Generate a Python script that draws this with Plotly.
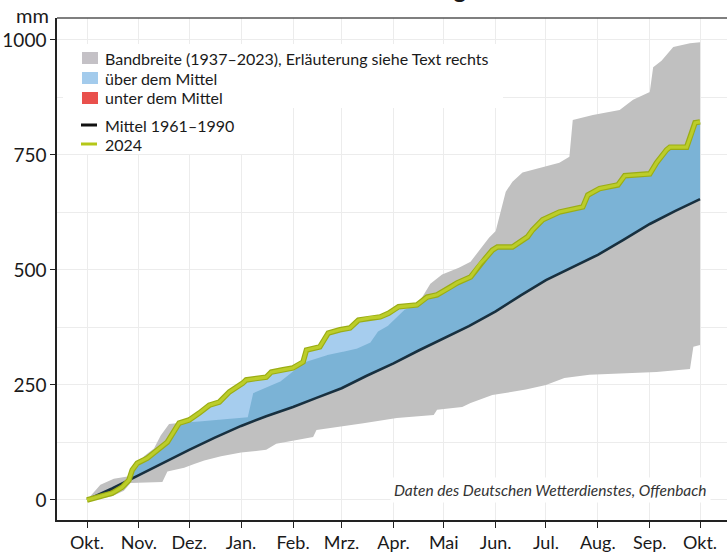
import numpy as np
import pandas as pd
import plotly.graph_objects as go

# Cumulative precipitation (mm), hydrological year October 2023 - September 2024

# 2024 running total
jahr_datum = [
    "2023-10-01", "2023-10-08", "2023-10-16", "2023-10-22", "2023-10-26", "2023-10-28",
    "2023-10-31", "2023-11-06", "2023-11-12", "2023-11-18", "2023-11-25", "2023-12-01",
    "2023-12-07", "2023-12-13", "2023-12-19", "2023-12-25", "2024-01-02", "2024-01-04",
    "2024-01-16", "2024-01-19", "2024-01-26", "2024-02-01", "2024-02-07", "2024-02-09",
    "2024-02-17", "2024-02-22", "2024-02-29", "2024-03-06", "2024-03-11", "2024-03-18",
    "2024-03-24", "2024-03-29", "2024-04-04", "2024-04-15", "2024-04-21", "2024-04-27",
    "2024-05-05", "2024-05-09", "2024-05-17", "2024-05-23", "2024-05-26", "2024-05-30",
    "2024-06-02", "2024-06-11", "2024-06-20", "2024-06-23", "2024-06-29", "2024-07-09",
    "2024-07-23", "2024-07-26", "2024-08-02", "2024-08-13", "2024-08-17", "2024-09-01",
    "2024-09-05", "2024-09-11", "2024-09-13", "2024-09-23", "2024-09-26", "2024-09-28",
    "2024-10-01",
]
jahr_mm = [
    0, 7, 15, 28, 43, 65,
    80, 91, 109, 126, 167, 174,
    189, 206, 213, 235, 254, 261,
    267, 278, 283, 287, 300, 326,
    333, 363, 370, 374, 391, 396,
    398, 406, 420, 424, 441, 446,
    463, 472, 485, 515, 526, 543,
    550, 550, 572, 587, 609, 626,
    637, 663, 677, 685, 705, 709,
    733, 761, 767, 767, 798, 820,
    822,
]

# long-term mean 1961-1990
mittel_datum = [
    "2023-10-01", "2023-10-16", "2023-11-01", "2023-11-16", "2023-12-01", "2023-12-16",
    "2024-01-01", "2024-01-16", "2024-02-01", "2024-02-15", "2024-03-01", "2024-03-16",
    "2024-04-01", "2024-04-16", "2024-05-01", "2024-05-16", "2024-06-01", "2024-06-16",
    "2024-07-01", "2024-07-16", "2024-08-01", "2024-08-16", "2024-09-01", "2024-09-16",
    "2024-10-01",
]
mittel_mm = [
    0, 25, 54, 82, 109, 135,
    161, 182, 202, 222, 243, 270,
    297, 325, 352, 378, 410, 445,
    478, 505, 533, 565, 600, 628,
    654,
]

# upper edge of the 1937-2023 range
max_datum = [
    "2023-10-01", "2023-10-09", "2023-10-17", "2023-10-27", "2023-10-31", "2023-11-04",
    "2023-11-10", "2023-11-14", "2023-11-19", "2023-12-02", "2023-12-15", "2023-12-20",
    "2024-01-05", "2024-01-08", "2024-01-24", "2024-02-07", "2024-02-17", "2024-02-27",
    "2024-03-08", "2024-03-18", "2024-03-22", "2024-03-28", "2024-04-07", "2024-04-13",
    "2024-04-18", "2024-04-23", "2024-04-30", "2024-05-10", "2024-05-17", "2024-05-28",
    "2024-06-01", "2024-06-07", "2024-06-11", "2024-06-17", "2024-07-09", "2024-07-15",
    "2024-07-17", "2024-07-29", "2024-08-14", "2024-08-22", "2024-09-01", "2024-09-03",
    "2024-09-08", "2024-09-15", "2024-09-25", "2024-10-01",
]
max_mm = [
    0, 33, 46, 52, 70, 95,
    112, 140, 165, 170, 172, 175,
    180, 232, 256, 298, 311, 320,
    326, 341, 365, 376, 413, 420,
    440, 470, 490, 505, 518, 570,
    585, 670, 692, 712, 733, 746,
    826, 837, 848, 870, 887, 941,
    955, 985, 993, 995,
]

# lower edge of the 1937-2023 range
min_datum = [
    "2023-10-01", "2023-10-09", "2023-10-16", "2023-10-23", "2023-10-27", "2023-11-15",
    "2023-11-18", "2023-11-28", "2023-12-04", "2023-12-10", "2023-12-20", "2024-01-01",
    "2024-01-16", "2024-01-22", "2024-02-13", "2024-02-15", "2024-03-14", "2024-04-03",
    "2024-04-25", "2024-04-27", "2024-05-12", "2024-05-17", "2024-05-30", "2024-06-19",
    "2024-07-01", "2024-07-12", "2024-07-27", "2024-09-05", "2024-09-25", "2024-09-27",
    "2024-10-01",
]
min_mm = [
    0, 3, 8, 20, 37, 39,
    62, 70, 78, 86, 95, 103,
    109, 122, 137, 152, 167, 178,
    185, 196, 202, 211, 228, 240,
    250, 265, 272, 278, 285, 333,
    337,
]

monat_ticks = [
    "2023-10-01", "2023-11-01", "2023-12-01", "2024-01-01", "2024-02-01", "2024-03-01",
    "2024-04-01", "2024-05-01", "2024-06-01", "2024-07-01", "2024-08-01", "2024-09-01",
    "2024-10-01",
]
monat_labels = ["Okt.", "Nov.", "Dez.", "Jan.", "Feb.", "Mrz.", "Apr.", "Mai", "Jun.",
                "Jul.", "Aug.", "Sep.", "Okt."]
mm_ticks = [0, 250, 500, 750, 1000]

FONT = "Lato"
GRAU = "#c0c0c0"
HELLBLAU = "#a6cdee"
BLAU_GRAU = "#7bb3d6"
ROT_GRAU = "#b2514a"


def secs(dates):
    return pd.to_datetime(pd.Series(dates)).astype("int64").to_numpy() // 10**9


# common time base for the above/below-mean shading
grid = np.unique(np.concatenate([
    secs(jahr_datum), secs(mittel_datum), secs(max_datum), secs(min_datum),
    np.arange(secs(["2023-10-01"])[0], secs(["2024-10-01"])[0] + 1, 6 * 3600),
]))
g_jahr = np.interp(grid, secs(jahr_datum), jahr_mm)
g_mittel = np.interp(grid, secs(mittel_datum), mittel_mm)
g_max = np.interp(grid, secs(max_datum), max_mm)
g_min = np.interp(grid, secs(min_datum), min_mm)
grid_x = pd.to_datetime(grid, unit="s")

ueber = np.maximum(g_jahr, g_mittel)
ueber_im_band = np.minimum(ueber, g_max)
unter = np.minimum(g_jahr, g_mittel)
unter_im_band = np.maximum(unter, g_min)

fig = go.Figure()


def band(x_lo, y_lo, x_hi, y_hi, color):
    fig.add_trace(go.Scatter(x=x_lo, y=y_lo, mode="lines", line=dict(width=0),
                             hoverinfo="skip", showlegend=False))
    fig.add_trace(go.Scatter(x=x_hi, y=y_hi, mode="lines", line=dict(width=0),
                             fill="tonexty", fillcolor=color, hoverinfo="skip",
                             showlegend=False))


# range 1937-2023
band(min_datum, min_mm, max_datum, max_mm, GRAU)
# above the mean: light where outside the range, darker where it overlaps the range
band(grid_x, g_mittel, grid_x, ueber, HELLBLAU)
band(grid_x, g_mittel, grid_x, ueber_im_band, BLAU_GRAU)
# below the mean
band(grid_x, unter, grid_x, g_mittel, "#e8504c")
band(grid_x, unter_im_band, grid_x, g_mittel, ROT_GRAU)

# mean line
fig.add_trace(go.Scatter(x=mittel_datum, y=mittel_mm, mode="lines",
                         line=dict(color="#18303f", width=2.6), showlegend=False))
# 2024 line with a slightly darker rim
fig.add_trace(go.Scatter(x=jahr_datum, y=jahr_mm, mode="lines",
                         line=dict(color="#9bad14", width=5.5), showlegend=False))
fig.add_trace(go.Scatter(x=jahr_datum, y=jahr_mm, mode="lines",
                         line=dict(color="#bccd2a", width=3.2), showlegend=False))


def fx(px):
    return (px - 57) / 670


def fy(py):
    return (520 - py) / 502


shapes = [
    # top frame line
    dict(type="line", xref="paper", yref="paper", x0=0, x1=1, y0=1, y1=1,
         line=dict(color="#555555", width=1.5)),
    # legend backgrounds
    dict(type="rect", xref="paper", yref="paper", x0=fx(63), x1=fx(503), y0=fy(108), y1=fy(44),
         fillcolor="white", line=dict(width=0), layer="above"),
    dict(type="rect", xref="paper", yref="paper", x0=fx(63), x1=fx(257), y0=fy(154), y1=fy(107),
         fillcolor="white", line=dict(width=0), layer="above"),
    # legend swatches
    dict(type="rect", xref="paper", yref="paper", x0=fx(82), x1=fx(98), y0=fy(64), y1=fy(52),
         fillcolor="#c4c1c6", line=dict(width=0), layer="above"),
    dict(type="rect", xref="paper", yref="paper", x0=fx(82), x1=fx(98), y0=fy(84), y1=fy(72),
         fillcolor="#a3cbec", line=dict(width=0), layer="above"),
    dict(type="rect", xref="paper", yref="paper", x0=fx(82), x1=fx(98), y0=fy(104), y1=fy(92),
         fillcolor="#e9504c", line=dict(width=0), layer="above"),
    dict(type="line", xref="paper", yref="paper", x0=fx(81), x1=fx(97), y0=fy(125), y1=fy(125),
         line=dict(color="#111111", width=3), layer="above"),
    dict(type="line", xref="paper", yref="paper", x0=fx(81), x1=fx(97), y0=fy(144), y1=fy(144),
         line=dict(color="#b5c718", width=3), layer="above"),
]

legend_text = [
    ("Bandbreite (1937–2023), Erläuterung siehe Text rechts", 58),
    ("über dem Mittel", 78),
    ("unter dem Mittel", 98),
    ("Mittel 1961–1990", 125),
    ("2024", 144),
]
annotations = [
    dict(text=t, xref="paper", yref="paper", x=fx(103), y=fy(py), xanchor="left",
         yanchor="middle", showarrow=False, font=dict(family=FONT, size=16, color="#1a1a1a"))
    for t, py in legend_text
]
annotations += [
    dict(text="mm", xref="paper", yref="paper", x=fx(51), y=fy(15), xanchor="right",
         yanchor="middle", showarrow=False, font=dict(family=FONT, size=20, color="#1a1a1a")),
    dict(text="<i>Daten des Deutschen Wetterdienstes, Offenbach</i>", xref="paper", yref="paper",
         x=fx(711), y=fy(490), xanchor="right", yanchor="middle", showarrow=False,
         bgcolor="white", borderpad=3,
         font=dict(family=FONT, size=15.5, color="#333333")),
    dict(text="<b>Niederschlag</b>", xref="paper", yref="paper", x=fx(468), y=fy(4.5),
         xanchor="right", yanchor="bottom", showarrow=False,
         font=dict(family=FONT, size=24, color="#1a1a1a")),
]

fig.update_layout(
    width=727, height=557,
    margin=dict(l=57, r=0, t=18, b=37),
    paper_bgcolor="white", plot_bgcolor="white",
    showlegend=False,
    font=dict(family=FONT, color="#1a1a1a"),
    shapes=shapes, annotations=annotations,
    xaxis=dict(
        type="date", range=["2023-09-13 02:09", "2024-10-17 02:09"],
        tickvals=monat_ticks, ticktext=monat_labels,
        tickfont=dict(family=FONT, size=18, color="#1a1a1a"),
        ticks="outside", ticklen=6, tickcolor="#222222", tickwidth=1.2,
        showline=True, linecolor="#222222", linewidth=1.5,
        showgrid=True, gridcolor="#ececec", gridwidth=1, zeroline=False,
    ),
    yaxis=dict(
        range=[-43.5, 1047.8], tickvals=mm_ticks,
        tickfont=dict(family=FONT, size=19, color="#1a1a1a"),
        ticks="outside", ticklen=5, tickcolor="#222222", tickwidth=1.2,
        showline=True, linecolor="#222222", linewidth=1.5,
        showgrid=True, gridcolor="#ececec", gridwidth=1, zeroline=False,
        minor=dict(tick0=0, dtick=125, showgrid=True, gridcolor="#ececec", gridwidth=1),
    ),
)

fig.write_html("out.html")
